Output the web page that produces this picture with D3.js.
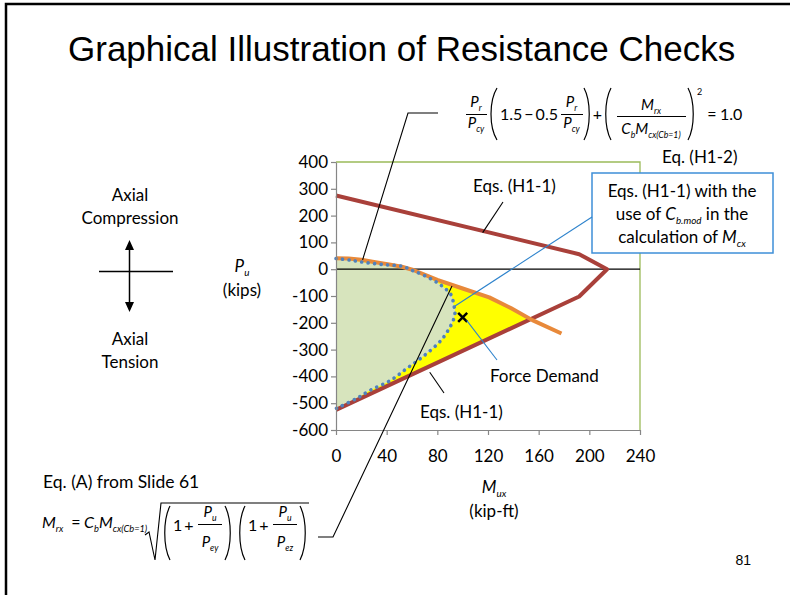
<!DOCTYPE html>
<html>
<head>
<meta charset="utf-8">
<script src="https://cdn.jsdelivr.net/npm/d3@7"></script>
<style>
body { margin: 0; background: #fff; }
text { font-family: Lato, "Open Sans", sans-serif; fill: #000; }
</style>
</head>
<body>
<script>
// axis ticks
const mTicks = [0, 40, 80, 120, 160, 200, 240];
const pTicks = [-600, -500, -400, -300, -200, -100, 0, 100, 200, 300, 400];

// Eqs. (H1-1) envelope (red)
const redM = [0, 192, 214, 192, 0];
const redP = [275, 56, 0, -102, -525];

// Eq. (H1-2) (orange)
const orangeM = [0, 10, 20, 30, 42, 52, 61, 80, 100, 121, 138, 155, 178];
const orangeP = [41, 40, 35, 27, 18, 9, -3, -40, -72, -105, -145, -190, -240];

// Eqs. (H1-1) with Cb.mod (blue dots)
const blueM = [0, 11, 23, 38, 52, 60, 72, 83, 91, 93, 94, 93, 90, 83, 70, 56, 43, 27, 16, 0];
const blueP = [40, 34, 25, 17, 11, -4, -29, -60, -97, -135, -155, -185, -216, -265, -321, -370, -415, -452, -483, -520];

// force demand
const demandM = [100];
const demandP = [-180];

const svg = d3.select("body").append("svg").attr("width", 790).attr("height", 595);

// slide frame
svg.append("path").attr("d", "M6,595 V4 H790").attr("fill", "none").attr("stroke", "#000").attr("stroke-width", 2.5);

svg.append("text").attr("x", 68).attr("y", 61)
    .style("font-family", "'Liberation Sans', Arial, sans-serif")
    .attr("font-size", 35)
    .text("Graphical Illustration of Resistance Checks");

svg.append("text").attr("x", 751).attr("y", 565).attr("text-anchor", "end")
    .style("font-family", "'Liberation Sans', Arial, sans-serif")
    .attr("font-size", 14).text("81");

// text with italic / subscript parts
function rich(g, x, y, parts, fs, anchor) {
    const t = g.append("text").attr("x", x).attr("y", y)
        .attr("font-size", fs).attr("text-anchor", anchor || "start");
    let shift = 0;
    parts.forEach(([s, kind]) => {
        const target = kind === "sub" ? fs * 0.25 : kind === "sup" ? -fs * 0.45 : 0;
        const ts = t.append("tspan").text(s).attr("dy", target - shift);
        shift = target;
        if (kind === "i" || kind === "sub") ts.style("font-style", "italic");
        if (kind === "sub" || kind === "sup") ts.attr("font-size", fs * 0.58);
    });
    return t;
}

function paren(g, x0, x1, y0, y1, left) {
    const a = left ? x1 : x0, b = left ? x0 : x1;
    g.append("path")
        .attr("d", `M${a},${y0} C${b},${y0 + (y1 - y0) * 0.25} ${b},${y1 - (y1 - y0) * 0.25} ${a},${y1}`)
        .attr("fill", "none").attr("stroke", "#000").attr("stroke-width", 1.2);
}

function bar(g, x0, x1, yy) {
    g.append("line").attr("x1", x0).attr("x2", x1).attr("y1", yy).attr("y2", yy)
        .attr("stroke", "#000").attr("stroke-width", 1);
}

// scales
const x = d3.scaleLinear().domain([0, 240]).range([336, 640]);
const y = d3.scaleLinear().domain([-600, 400]).range([430, 162]);

const plot = svg.append("g");

// plot-area border (top / right)
plot.append("path")
    .attr("d", `M${x(0)},${y(400)} H${x(240)} V${y(-600)}`)
    .attr("fill", "none").attr("stroke", "#9BBB59").attr("stroke-width", 1.3);

const red = redM.map((m, i) => [m, redP[i]]);
const orange = orangeM.map((m, i) => [m, orangeP[i]]);
const blue = blueM.map((m, i) => [m, blueP[i]]);

// where the orange curve meets the lower red branch
function redLow(m) {
    const [m0, p0] = red[3], [m1, p1] = red[4];
    return p0 + (p1 - p0) * (m - m0) / (m1 - m0);
}
let cross = null, cut = 0;
for (let i = 1; i < orange.length; i++) {
    const f0 = orange[i - 1][1] - redLow(orange[i - 1][0]);
    const f1 = orange[i][1] - redLow(orange[i][0]);
    if (f0 > 0 && f1 <= 0) {
        const t = f0 / (f0 - f1);
        cross = [orange[i - 1][0] + t * (orange[i][0] - orange[i - 1][0]),
                 orange[i - 1][1] + t * (orange[i][1] - orange[i - 1][1])];
        cut = i;
        break;
    }
}

const lin = d3.line().x(d => x(d[0])).y(d => y(d[1]));
const smooth = d3.line().x(d => x(d[0])).y(d => y(d[1])).curve(d3.curveCatmullRom.alpha(0.5));

// yellow: under orange, above red
const yellow = orange.slice(0, cut).concat([cross, red[4]]);
plot.append("path").attr("d", lin(yellow) + "Z").attr("fill", "#FFFF00");
// green: inside blue curve
plot.append("path").attr("d", smooth(blue) + "Z").attr("fill", "#D7E4BD");

// zero line
plot.append("line").attr("x1", x(0)).attr("x2", x(240)).attr("y1", y(0)).attr("y2", y(0))
    .attr("stroke", "#000").attr("stroke-width", 1.2);

plot.append("path").attr("d", lin(red)).attr("fill", "none")
    .attr("stroke", "#A9403A").attr("stroke-width", 4).attr("stroke-linejoin", "round");
plot.append("path").attr("d", lin(orange)).attr("fill", "none")
    .attr("stroke", "#E8893A").attr("stroke-width", 4).attr("stroke-linejoin", "round");
plot.append("path").attr("d", smooth(blue)).attr("fill", "none")
    .attr("stroke", "#4F81BD").attr("stroke-width", 3.6)
    .attr("stroke-dasharray", "0.1 6.4").attr("stroke-linecap", "round");

// force demand marker
demandM.forEach((m, i) => {
    const cx = x(m), cy = y(demandP[i]), s = 4.5;
    plot.append("path").attr("d", `M${cx - s},${cy - s}L${cx + s},${cy + s}M${cx - s},${cy + s}L${cx + s},${cy - s}`)
        .attr("stroke", "#000").attr("stroke-width", 2.5);
});

// axes
const gy = svg.append("g").attr("transform", `translate(${x(0)},0)`)
    .call(d3.axisLeft(y).tickValues(pTicks).tickFormat(d => String(d))
        .tickSize(5).tickPadding(3).tickSizeOuter(0));
const gx = svg.append("g").attr("transform", `translate(0,${y(-600)})`)
    .call(d3.axisBottom(x).tickValues(mTicks).tickFormat(d => String(d))
        .tickSize(5).tickPadding(15).tickSizeOuter(0));
[gx, gy].forEach(g => {
    g.attr("font-family", null).attr("font-size", null);
    g.selectAll("path, line").attr("stroke", "#868686").attr("stroke-width", 1.2);
    g.selectAll("text").attr("font-size", 17).attr("fill", "#000");
});

// axis titles
rich(svg, 242, 272, [["P", "i"], ["u", "sub"]], 17, "middle");
svg.append("text").attr("x", 242).attr("y", 296).attr("text-anchor", "middle").attr("font-size", 17).text("(kips)");
rich(svg, 494, 493, [["M", "i"], ["ux", "sub"]], 17, "middle");
svg.append("text").attr("x", 494).attr("y", 517).attr("text-anchor", "middle").attr("font-size", 17).text("(kip-ft)");

// axial direction sign
const side = svg.append("g");
[["Axial", 201], ["Compression", 224], ["Axial", 345], ["Tension", 368]].forEach(([s, yy]) => {
    side.append("text").attr("x", 130).attr("y", yy).attr("text-anchor", "middle").attr("font-size", 17).text(s);
});
side.append("line").attr("x1", 99).attr("x2", 173).attr("y1", 271.5).attr("y2", 271.5).attr("stroke", "#000").attr("stroke-width", 1.3);
side.append("line").attr("x1", 129.5).attr("x2", 129.5).attr("y1", 246).attr("y2", 306).attr("stroke", "#000").attr("stroke-width", 1.5);
side.append("path").attr("d", "M129.5,240 L125,250 L134,250 Z M129.5,312 L125,302 L134,302 Z").attr("fill", "#000");

// annotations
const ann = svg.append("g");
ann.append("text").attr("x", 473).attr("y", 192).attr("font-size", 17).text("Eqs. (H1-1)");
ann.append("text").attr("x", 662).attr("y", 163).attr("font-size", 17).text("Eq. (H1-2)");
ann.append("text").attr("x", 490).attr("y", 382).attr("font-size", 17).text("Force Demand");
ann.append("text").attr("x", 420).attr("y", 418).attr("font-size", 17).text("Eqs. (H1-1)");

ann.append("rect").attr("x", 592).attr("y", 173).attr("width", 181).attr("height", 80)
    .attr("fill", "#fff").attr("stroke", "#3E8FD8").attr("stroke-width", 1.5);
ann.append("text").attr("x", 682).attr("y", 197).attr("text-anchor", "middle").attr("font-size", 17).text("Eqs. (H1-1) with the");
rich(ann, 682, 220, [["use of "], ["C", "i"], ["b.mod", "sub"], [" in the"]], 17, "middle");
rich(ann, 682, 243, [["calculation of "], ["M", "i"], ["cx", "sub"]], 17, "middle");

function leader(pts, color) {
    ann.append("path").attr("d", d3.line()(pts)).attr("fill", "none")
        .attr("stroke", color).attr("stroke-width", 1.1);
}
const redTop = [x(115), y(275 + (56 - 275) * 115 / 192)];
leader([[redTop[0] + 1, redTop[1] + 2], [503, 202]], "#000");
leader([[x(94), y(-137)], [592, 217]], "#2E83CC");
leader([[x(demandM[0]) + 4, y(demandP[0]) + 3], [497, 360]], "#2E83CC");
leader([[x(74), y(redLow(74)) + 6], [444, 393]], "#000");
leader([[438, 113], [408, 113], [x(21), y(35)]], "#000");
leader([[318, 537], [333, 537], [452, 286]], "#000");

// top equation, Eq. (H1-2)
const eq1 = svg.append("g");
rich(eq1, 476, 107, [["P", "i"], ["r", "sub"]], 15, "middle");
bar(eq1, 466, 487, 114.5);
rich(eq1, 476, 128, [["P", "i"], ["cy", "sub"]], 15, "middle");
paren(eq1, 489, 497, 88, 140, true);
eq1.append("text").attr("x", 500).attr("y", 120).attr("font-size", 16).text("1.5\u2009\u2212\u20090.5");
rich(eq1, 571.5, 107, [["P", "i"], ["r", "sub"]], 15, "middle");
bar(eq1, 561, 583, 114.5);
rich(eq1, 571.5, 128, [["P", "i"], ["cy", "sub"]], 15, "middle");
paren(eq1, 584, 591, 88, 140, false);
eq1.append("text").attr("x", 597.5).attr("y", 120).attr("text-anchor", "middle").attr("font-size", 16).text("+");
paren(eq1, 604, 611, 88, 140, true);
rich(eq1, 651, 110, [["M", "i"], ["rx", "sub"]], 15, "middle");
bar(eq1, 617, 686, 116.5);
rich(eq1, 651, 134, [["C", "i"], ["b", "sub"], ["M", "i"], ["cx(Cb=1)", "sub"]], 15, "middle");
paren(eq1, 688, 695, 88, 140, false);
eq1.append("text").attr("x", 697).attr("y", 95).attr("font-size", 9).text("2");
eq1.append("text").attr("x", 712).attr("y", 120).attr("text-anchor", "middle").attr("font-size", 16).text("=");
eq1.append("text").attr("x", 720).attr("y", 120).attr("font-size", 16).text("1.0");

// bottom equation, Eq. (A)
const eq2 = svg.append("g");
eq2.append("text").attr("x", 43).attr("y", 488).attr("font-size", 17.5).text("Eq. (A) from Slide 61");
rich(eq2, 42, 528, [["M", "i"], ["rx", "sub"]], 16);
eq2.append("text").attr("x", 76).attr("y", 528).attr("text-anchor", "middle").attr("font-size", 16).text("=");
rich(eq2, 84, 528, [["C", "i"], ["b", "sub"], ["M", "i"], ["cx(Cb=1)", "sub"]], 16);
eq2.append("path").attr("d", "M145,535 L149,532 L155,560 L161,503 H309")
    .attr("fill", "none").attr("stroke", "#000").attr("stroke-width", 1.1);
[163, 238].forEach((p0, k) => {
    const c = p0 + 47, sub = k === 0 ? "ey" : "ez";
    paren(eq2, p0, p0 + 7, 506, 560, true);
    eq2.append("text").attr("x", p0 + 10).attr("y", 531).attr("font-size", 16).text("1");
    eq2.append("text").attr("x", p0 + 26).attr("y", 531).attr("text-anchor", "middle").attr("font-size", 16).text("+");
    rich(eq2, c, 517, [["P", "i"], ["u", "sub"]], 15, "middle");
    bar(eq2, c - 12, c + 12, 524.5);
    rich(eq2, c, 547, [["P", "i"], [sub, "sub"]], 15, "middle");
    paren(eq2, p0 + 62, p0 + 69, 506, 560, false);
});
</script>
</body>
</html>
